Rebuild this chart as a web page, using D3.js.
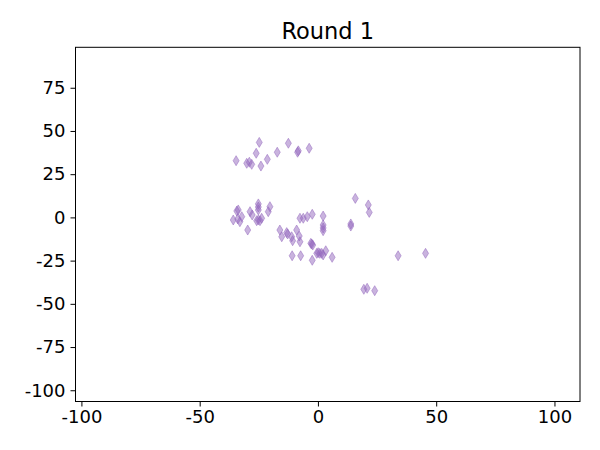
<!DOCTYPE html>
<html><head><meta charset="utf-8">
<script src="https://cdn.jsdelivr.net/npm/d3@7"></script>
<style>body{margin:0;background:#fff}svg{display:block}</style>
</head><body><svg id="c" width="600" height="450"></svg>
<script>
const title = "Round 1";
const xTicks = [-100, -50, 0, 50, 100];
const yTicks = [-100, -75, -50, -25, 0, 25, 50, 75];
const xs = [-34.6,-24.8,-26.1,-30.1,-29.0,-28.0,-24.1,-21.4,-17.2,-12.5,-8.6,-8.3,-3.7,
  -25.2,-25.2,-25.2,-20.3,-21.0,-33.7,-34.3,-35.8,-33.9,-32.2,-33.0,-28.7,-27.8,-25.2,-23.8,-25.9,-24.5,-29.7,
  -7.6,-6.2,-4.5,-2.4,2.2,2.2,2.2,2.2,-16.1,-13.2,-12.8,-15.3,-11.1,-9.0,-7.9,-10.7,-7.6,-3.0,-2.6,-2.2,-10.9,-7.3,-2.4,-0.5,0.8,2.2,3.3,6.0,0.1,1.6,
  15.8,21.3,21.7,13.9,13.9,33.9,45.5,19.4,20.8,24.0];
const ys = [32.8,43.4,37.1,31.3,31.9,30.7,29.7,33.6,37.7,42.9,37.7,38.5,40.0,
  7.8,6.0,4.3,6.2,3.3,4.3,3.7,-1.5,-0.9,0.4,-2.5,3.3,1.4,-1.5,-0.5,-1.9,-1.9,-7.3,
  -0.5,-0.5,0.4,1.8,0.8,-4.4,-7.7,-6.1,-7.3,-8.8,-9.6,-11.2,-11.2,-7.3,-10.8,-13.5,-14.1,-15.0,-15.4,-16.0,-22.2,-22.2,-24.8,-20.8,-20.8,-21.7,-19.3,-23.1,-20.4,-20.8,
  11.0,7.2,2.9,-3.8,-5.0,-22.2,-20.8,-41.6,-41.0,-42.4];

const svg = d3.select("#c");
const L = 75.5, R = 580, T = 47.3, B = 401.5;
const x = d3.scaleLinear().domain([-102.5, 110.8]).range([L, R]);
const y = d3.scaleLinear().domain([-106.5, 98.4]).range([B, T]);
const font = "DejaVu Sans, sans-serif";

const pts = xs.map((v, i) => ({x: v, y: ys[i]}));
const diamond = "M0,-5 L3,0 L0,5 L-3,0 Z";
svg.append("g").selectAll("path").data(pts).join("path")
  .attr("d", diamond)
  .attr("transform", d => `translate(${x(d.x)},${y(d.y)})`)
  .attr("fill", "#9467bd").attr("fill-opacity", 0.5)
  .attr("stroke", "#9467bd").attr("stroke-opacity", 0.5).attr("stroke-width", 1);

const xa = svg.append("g").attr("transform", `translate(0,${B})`)
  .call(d3.axisBottom(x).tickValues(xTicks).tickFormat(d => String(d)).tickSize(5).tickPadding(4));
const ya = svg.append("g").attr("transform", `translate(${L},0)`)
  .call(d3.axisLeft(y).tickValues(yTicks).tickFormat(d => String(d)).tickSize(5).tickPadding(5));
[xa, ya].forEach(a => {
  a.select(".domain").remove();
  a.selectAll("line").attr("stroke", "#000").attr("stroke-width", 1);
  a.selectAll("text").attr("font-family", font).attr("font-size", 18).attr("fill", "#000");
});
svg.append("rect").attr("x", L).attr("y", T).attr("width", R - L).attr("height", B - T)
  .attr("fill", "none").attr("stroke", "#000").attr("stroke-width", 1);
svg.append("text").attr("x", (L + R) / 2).attr("y", 39).attr("text-anchor", "middle")
  .attr("font-family", font).attr("font-size", 22.5).attr("fill", "#000").text(title);
</script></body></html>
